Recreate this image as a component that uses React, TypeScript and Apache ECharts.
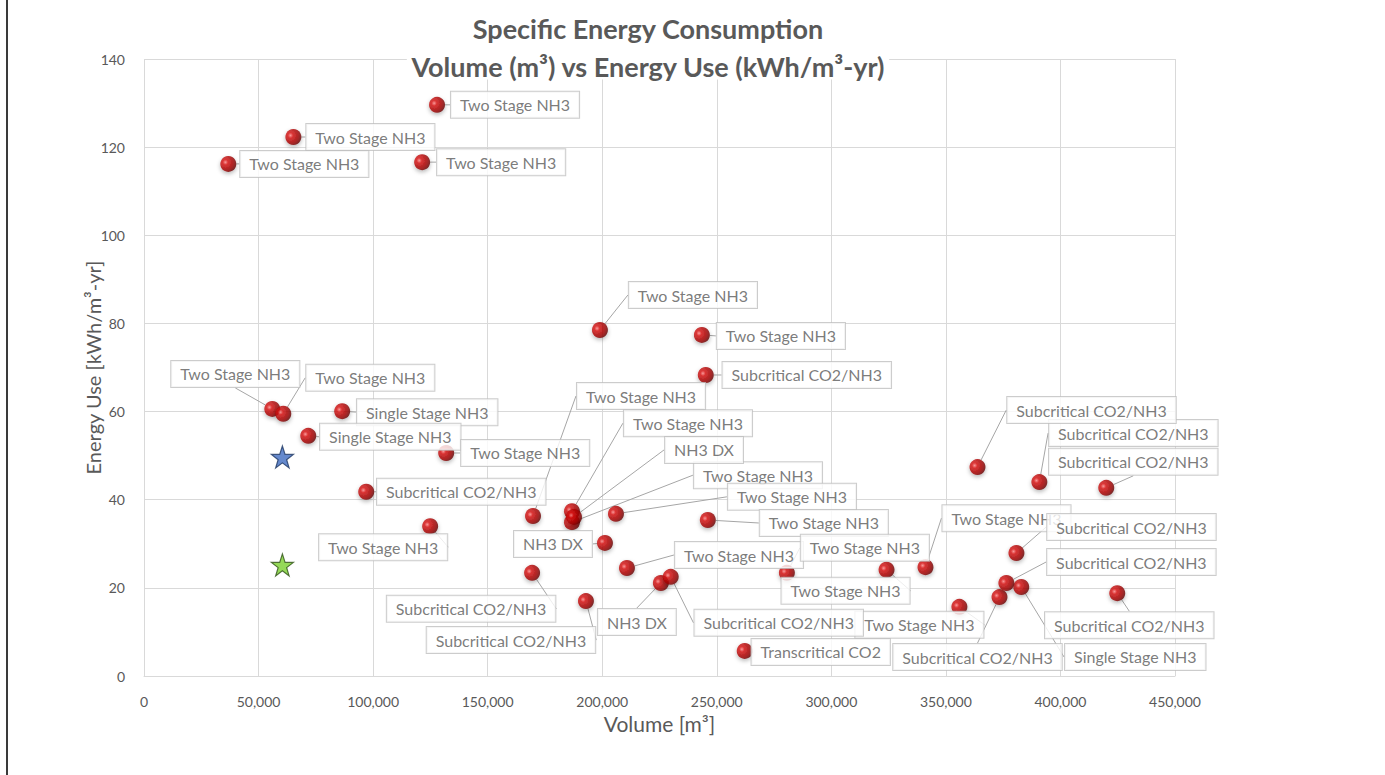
import React, { useEffect, useRef } from "react";
import * as echarts from "echarts";

// Facility volume (m³) and annual specific energy use (kWh/m³-yr)
const VOLUME = [
  36800, 65200, 127900, 121400, 199000, 243500, 245200, 56000, 60800, 86500,
  71700, 169800, 186800, 186800, 187700, 131900, 97000, 206000, 246100, 201200,
  124900, 210800, 280600, 324100, 341100, 169400, 192900, 225600, 355900, 229900,
  373400, 262200, 382900, 424800, 376400, 380800, 420000, 390800, 363800,
];
const ENERGY = [
  116.2, 122.3, 129.6, 116.6, 78.5, 77.4, 68.3, 60.6, 59.5, 60.1,
  54.5, 36.3, 37.4, 34.9, 36.1, 50.6, 41.8, 36.8, 35.4, 30.2,
  34.0, 24.5, 23.4, 24.1, 24.7, 23.4, 17.0, 21.1, 15.7, 22.5,
  17.9, 5.7, 20.2, 18.8, 21.1, 27.9, 42.7, 44.0, 47.4,
];
const SYSTEM = [
  "Two Stage NH3", "Two Stage NH3", "Two Stage NH3", "Two Stage NH3", "Two Stage NH3",
  "Two Stage NH3", "Subcritical CO2/NH3", "Two Stage NH3", "Two Stage NH3", "Single Stage NH3",
  "Single Stage NH3", "Two Stage NH3", "Two Stage NH3", "Two Stage NH3", "NH3 DX",
  "Two Stage NH3", "Subcritical CO2/NH3", "Two Stage NH3", "Two Stage NH3", "NH3 DX",
  "Two Stage NH3", "Two Stage NH3", "Two Stage NH3", "Two Stage NH3", "Two Stage NH3",
  "Subcritical CO2/NH3", "Subcritical CO2/NH3", "NH3 DX", "Two Stage NH3", "Subcritical CO2/NH3",
  "Subcritical CO2/NH3", "Transcritical CO2", "Single Stage NH3", "Subcritical CO2/NH3", "Subcritical CO2/NH3",
  "Subcritical CO2/NH3", "Subcritical CO2/NH3", "Subcritical CO2/NH3", "Subcritical CO2/NH3",
];

// Callout placement for each facility label: [dx, dy] in px from its marker
const LABEL_SHIFT: [number, number][] = [
  [76, 0], [77, 0], [78, 0], [79, 0], [93, -35],
  [79, 1], [101, 0], [-37, -35], [87, -36], [85, 1],
  [82, 1], [108, -120], [116, -88], [186, -47], [130, -67],
  [79, 0], [95, 0], [176, -17], [116, 3], [-52, 1],
  [-47, 21], [112, -13], [78, -25], [-41, 21], [81, -49],
  [-61, 36], [-75, 39], [-24, 39], [-40, 18], [108, 46],
  [-22, 60], [76, 1], [114, 70], [12, 32], [125, -21],
  [115, -26], [27, -26], [94, -49], [114, -57],
];

// Benchmark targets (stars)
const TARGET_VOLUME = [60400, 60400];
const TARGET_ENERGY = [49.7, 25.2];
const TARGET_FILL = ["#3F6BC0", "#7BD02E"];
const TARGET_EDGE = ["#1F3864", "#2F5216"];

const X_MAX = 450000;
const X_STEP = 50000;
const Y_MAX = 140;
const Y_STEP = 20;

const STAR =
  "path://M50,0 L61.8,35.1 L98.1,35.1 L68.7,56.7 L79.4,91 L50,70 L20.6,91 L31.3,56.7 L1.9,35.1 L38.2,35.1 Z";

const GREY = "#595959";
const FONT = "Lato";

export default function App() {
  const ref = useRef<HTMLDivElement>(null);

  useEffect(() => {
    if (!ref.current) return;
    const chart = echarts.init(ref.current, undefined, { renderer: "svg" });

    const facilities = VOLUME.map((v, i) => [v, ENERGY[i]]);
    const targets = TARGET_VOLUME.map((v, i) => ({
      value: [v, TARGET_ENERGY[i]],
      itemStyle: { color: TARGET_FILL[i], borderColor: TARGET_EDGE[i], borderWidth: 1.2 },
    }));

    chart.setOption({
      animation: false,
      backgroundColor: "#ffffff",
      textStyle: { fontFamily: FONT },
      grid: { left: 144, right: 210, top: 59, bottom: 99 },
      xAxis: {
        type: "value",
        min: 0,
        max: X_MAX,
        interval: X_STEP,
        name: "Volume [m³]",
        nameLocation: "middle",
        nameGap: 37,
        nameMoveOverlap: false,
        nameTextStyle: { color: GREY, fontSize: 21, fontFamily: FONT },
        axisLine: { show: true, lineStyle: { color: "#d9d9d9" } },
        axisTick: { show: false },
        axisLabel: {
          color: GREY,
          fontSize: 14,
          margin: 18,
          fontFamily: FONT,
          formatter: (v: number) => v.toLocaleString("en-US"),
        },
        splitLine: { show: true, lineStyle: { color: "#d9d9d9" } },
      },
      yAxis: {
        type: "value",
        min: 0,
        max: Y_MAX,
        interval: Y_STEP,
        name: "Energy Use [kWh/m³-yr]",
        nameLocation: "middle",
        nameGap: 41,
        nameMoveOverlap: false,
        nameTextStyle: { color: GREY, fontSize: 20, fontFamily: FONT },
        axisLine: { show: false },
        axisTick: { show: false },
        axisLabel: { color: GREY, fontSize: 14, margin: 19, fontFamily: FONT },
        splitLine: { show: true, lineStyle: { color: "#d9d9d9" } },
      },
      graphic: [
        {
          type: "line",
          shape: { x1: 7, y1: 0, x2: 7, y2: 775 },
          style: { stroke: "#3a3a3a", lineWidth: 2 },
          z: 100,
        },
        {
          type: "text",
          x: 648,
          y: 28,
          z: 100,
          style: {
            text: "Specific Energy Consumption",
            fill: GREY,
            font: `bold 27px ${FONT}`,
            align: "center",
            verticalAlign: "middle",
          },
        },
        {
          type: "text",
          x: 648,
          y: 66,
          z: 100,
          style: {
            text: "Volume (m³) vs Energy Use (kWh/m³-yr)",
            fill: GREY,
            font: `bold 27px ${FONT}`,
            align: "center",
            verticalAlign: "middle",
            backgroundColor: "#ffffff",
            padding: [0, 4],
          },
        },
      ],
      series: [
        {
          type: "scatter",
          data: targets,
          symbol: STAR,
          symbolSize: 22,
          z: 3,
        },
        {
          type: "scatter",
          data: facilities,
          symbol: "circle",
          symbolSize: 16,
          z: 4,
          itemStyle: {
            color: {
              type: "radial",
              x: 0.32,
              y: 0.4,
              r: 0.75,
              colorStops: [
                { offset: 0, color: "#ff8a8a" },
                { offset: 0.22, color: "#d90f0f" },
                { offset: 0.7, color: "#9a0000" },
                { offset: 1, color: "#4e0000" },
              ],
            },
            shadowBlur: 4,
            shadowColor: "rgba(0,0,0,0.35)",
            shadowOffsetY: 2,
          },
          label: {
            show: true,
            position: "inside",
            formatter: (p: any) => SYSTEM[p.dataIndex],
            color: GREY,
            fontSize: 16,
            fontFamily: FONT,
            backgroundColor: "#ffffff",
            borderColor: "#bfbfbf",
            borderWidth: 1,
            padding: [4, 9],
            lineHeight: 18,
          },
          labelLine: {
            show: true,
            lineStyle: { color: "#a6a6a6", width: 1 },
          },
          labelLayout: (p: any) => {
            const s = LABEL_SHIFT[p.dataIndex] || [0, 0];
            return { dx: s[0], dy: s[1] };
          },
        },
      ],
    });

    return () => chart.dispose();
  }, []);

  return (
    <div
      ref={ref}
      style={{ position: "absolute", left: 0, top: 0, width: 1385, height: 775, background: "#fff" }}
    />
  );
}
